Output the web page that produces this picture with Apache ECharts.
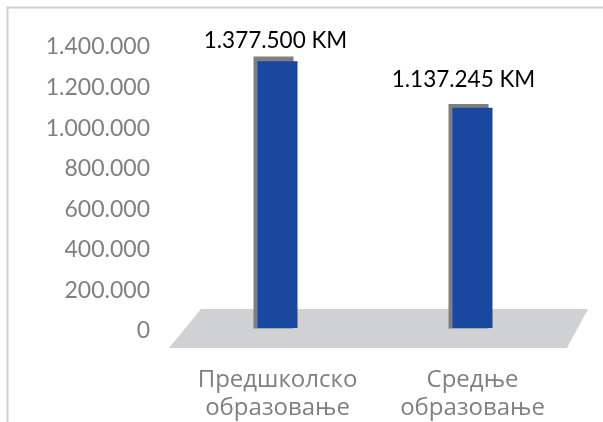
<!DOCTYPE html>
<html>
<head>
<meta charset="utf-8">
<script src="https://cdn.jsdelivr.net/npm/echarts@6/dist/echarts.min.js"></script>
<style>
  html, body { margin: 0; padding: 0; background: #fff; }
  #chart { width: 603px; height: 422px; }
</style>
</head>
<body>
<div id="chart"></div>
<script>
var categories = ['Предшколско\nобразовање', 'Средње\nобразовање'];
var amounts = [1377500, 1137245];
var axisMax = 1400000;
var axisStep = 200000;

function fmt(v) {
    return String(v).replace(/\B(?=(\d{3})+(?!\d))/g, '.');
}

var dom = document.getElementById('chart');
var myChart = echarts.init(dom);

// excel placed the value labels a bit off-centre, nudge them
var labelShift = [[-2, -4], [-9, -12]];

var option = {
    animation: false,
    textStyle: { fontFamily: 'Lato, "Open Sans", sans-serif' },
    graphic: [
        {
            type: 'rect',
            shape: { x: 7.5, y: 7.5, width: 700, height: 500 },
            style: { fill: 'none', stroke: '#d0d0d0', lineWidth: 2 },
            z: 0
        },
        {
            type: 'polygon',
            shape: { points: [[201, 309], [588, 309], [567, 348], [169, 348]] },
            style: { fill: '#d0d1d3' },
            z: 0
        }
    ],
    grid: [
        { left: 158, right: 33, top: 47, bottom: 91 },
        { left: 180, right: 33, top: 57, bottom: 88.5 },
        { left: 176, right: 37, top: 52, bottom: 93.5 }
    ],
    xAxis: [
        { gridIndex: 0, type: 'category', data: categories, show: false },
        {
            gridIndex: 1, type: 'category', data: categories,
            axisLine: { show: false }, axisTick: { show: false },
            axisLabel: {
                interval: 0, hideOverlap: false,
                color: '#808080', fontSize: 24, lineHeight: 28, margin: 38,
                fontFamily: '"Open Sans", sans-serif'
            }
        },
        { gridIndex: 2, type: 'category', data: categories, show: false }
    ],
    yAxis: [
        {
            gridIndex: 0, type: 'value', min: 0, max: axisMax, interval: axisStep,
            axisLine: { show: false }, axisTick: { show: false },
            splitLine: { show: false },
            axisLabel: { color: '#808080', fontSize: 23, margin: 8, formatter: fmt }
        },
        { gridIndex: 1, type: 'value', min: 0, max: axisMax, show: false },
        { gridIndex: 2, type: 'value', min: 0, max: axisMax, show: false }
    ],
    series: [
        {
            type: 'bar', xAxisIndex: 2, yAxisIndex: 2,
            data: amounts, barWidth: 40,
            itemStyle: { color: '#7f7f7f' },
            z: 2
        },
        {
            type: 'bar', xAxisIndex: 1, yAxisIndex: 1,
            data: amounts.map(function (v, i) {
                return { value: v, label: { offset: labelShift[i] } };
            }),
            barWidth: 40,
            itemStyle: { color: '#1a479f' },
            label: {
                show: true, position: 'top', color: '#000', fontSize: 22.5,
                formatter: function (p) { return fmt(p.value) + ' KM'; }
            },
            z: 3
        }
    ]
};
myChart.setOption(option, true);
</script>
</body>
</html>
